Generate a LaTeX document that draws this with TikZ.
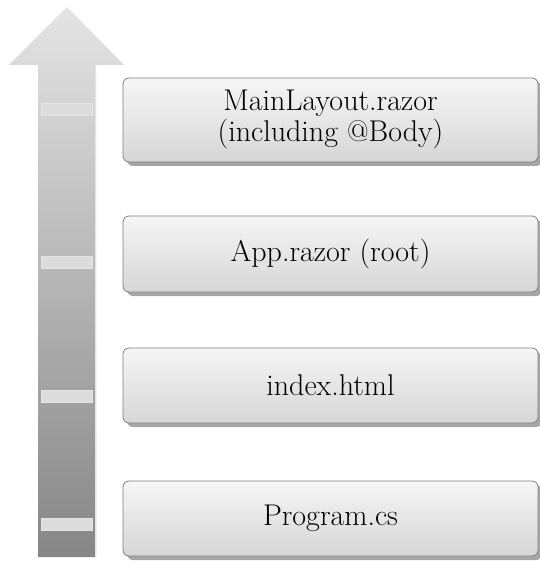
\documentclass[tikz,border=0pt]{standalone}
\usepackage{fontspec}
\usetikzlibrary{shadows}
\definecolor{arrtop}{RGB}{228,228,228}
\definecolor{arrbot}{RGB}{134,134,134}
\definecolor{bandc}{RGB}{220,220,220}
\definecolor{boxtop}{RGB}{246,246,246}
\definecolor{boxbot}{RGB}{214,214,214}
\begin{document}
\begin{tikzpicture}[x=1pt,y=-1pt,
  layerbox/.style={draw=black!50, line width=0.8pt, rounded corners=6pt,
    top color=boxtop, bottom color=boxbot, minimum width=415pt,
    align=center, font=\fontsize{30}{31}\selectfont,
    drop shadow={shadow xshift=4pt, shadow yshift=-4pt, fill=black!35, opacity=1}},
  band/.style={fill=bandc, draw=white!80!gray, line width=0.6pt}]
\useasboundingbox (0,0) rectangle (539,561);
% arrow
\shade[top color=arrtop, bottom color=arrbot, draw=none]
  (38,557) -- (38,65) -- (9,65) -- (67,7) -- (124,65) -- (96,65) -- (96,557) -- cycle;
\draw[white!80!gray, line width=0.6pt] (95.5,65) -- (95.5,557);
\fill[band] (41,103) rectangle (92,115);
\fill[band] (41,256) rectangle (92,268);
\fill[band] (41,390) rectangle (92,402);
\fill[band] (41,518) rectangle (92,530);
% boxes
\node[layerbox, minimum height=84pt] (ml) at (330.5,120) {MainLayout.razor\\(including @Body)};
\node[layerbox, minimum height=76pt] (app) at (330.5,254) {App.razor (root)};
\node[layerbox, minimum height=75pt] (idx) at (330.5,385.5) {index.html};
\node[layerbox, minimum height=75pt] (prog) at (330.5,518.5) {Program.cs};
\end{tikzpicture}
\end{document}
